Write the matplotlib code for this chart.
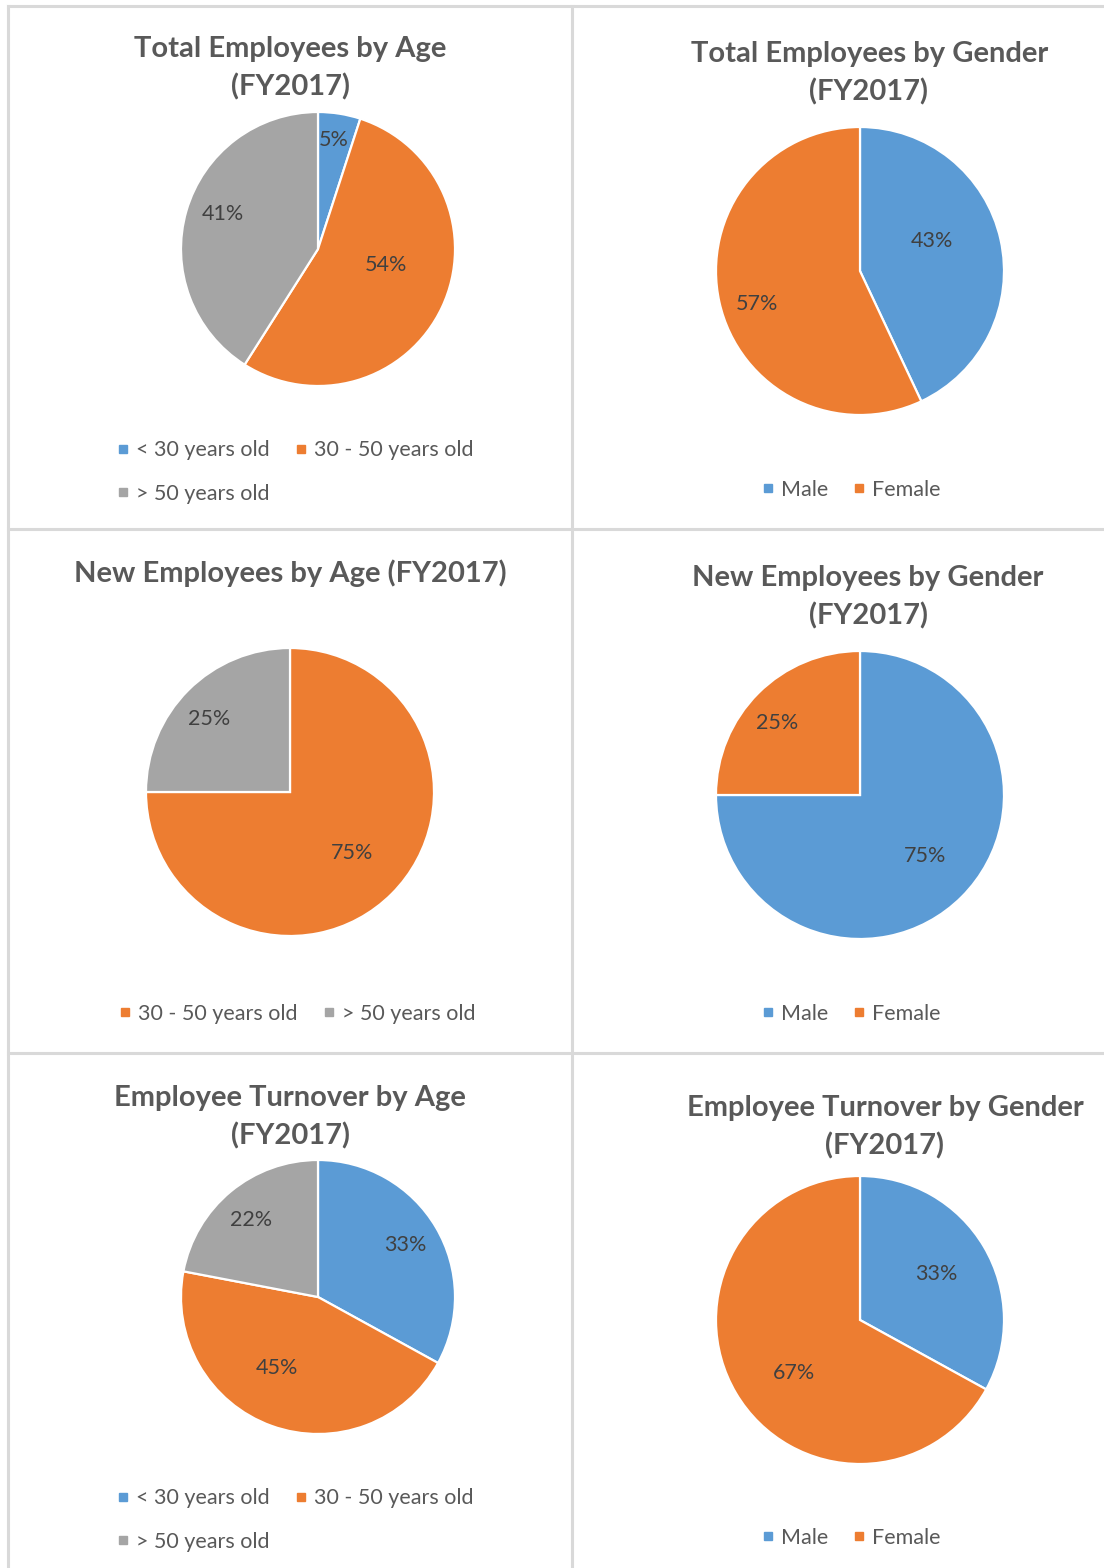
import numpy as np
import matplotlib
matplotlib.use("Agg")
import matplotlib.pyplot as plt
from matplotlib.lines import Line2D

plt.rcParams['font.family'] = ['Lato', 'DejaVu Sans']

# data
age_labels = ['< 30 years old', '30 - 50 years old', '> 50 years old']
new_age_labels = ['30 - 50 years old', '> 50 years old']
gender_labels = ['Male', 'Female']

total_age = [5, 54, 41]
total_gender = [43, 57]
new_age = [75, 25]
new_gender = [75, 25]
turnover_age = [33, 45, 22]
turnover_gender = [33, 67]

colors = {'< 30 years old': '#5B9BD5', '30 - 50 years old': '#ED7D31',
          '> 50 years old': '#A5A5A5', 'Male': '#5B9BD5', 'Female': '#ED7D31'}

W, H = 1104, 1568
TITLE_C = '#595959'
LABEL_C = '#404040'

def fx(x):
  return x / W

def fy(y):
  return 1 - y / H

fig = plt.figure(figsize=(W / 100, H / 100), dpi=100)

# cell borders
for x0, y0, x1, y1 in [(8, 6, W, 6), (8, 6, 8, H), (572, 6, 572, H),
                       (8, 529, W, 529), (8, 1053, W, 1053)]:
  fig.add_artist(Line2D([fx(x0), fx(x1)], [fy(y0), fy(y1)], color='#d9d9d9', lw=2.2))

def panel(values, labels, title_lines, cx, cy, r, lab_pos, leg_xy):
  for text, tx, ty in title_lines:
    fig.text(fx(tx), fy(ty + 2), text, ha='center', va='center', fontsize=21,
             fontweight='bold', color=TITLE_C)
  s = 1.03
  ax = fig.add_axes([fx(cx - r * s), fy(cy + r * s), 2 * r * s / W, 2 * r * s / H])
  wedges, _, autotexts = ax.pie(values, colors=[colors[l] for l in labels], startangle=90,
                                counterclock=False, autopct='%.0f%%',
                                wedgeprops=dict(edgecolor='white', linewidth=1.6),
                                textprops=dict(color=LABEL_C, fontsize=15.5))
  for t, (d, a) in zip(autotexts, lab_pos):
    t.set_position((d * np.cos(np.radians(a)), d * np.sin(np.radians(a))))
    t.set_ha('center')
    t.set_va('center')
  ax.set_xlim(-s, s)
  ax.set_ylim(-s, s)
  ax.set_aspect('equal')
  handles = [Line2D([], [], marker='s', ls='none', markersize=6,
                    color=colors[l]) for l in labels]
  labs = list(labels)
  if len(labels) == 3:
    handles = [handles[0], handles[2], handles[1]]
    labs = [labs[0], labs[2], labs[1]]
  leg = fig.legend(handles, labs, loc='center', bbox_to_anchor=(fx(leg_xy[0]), fy(leg_xy[1])),
                   ncol=2, frameon=False, fontsize=15.5, handlelength=0.6,
                   handletextpad=0.3, columnspacing=1.15, labelspacing=1.1,
                   borderpad=0, borderaxespad=0)
  for t in leg.get_texts():
    t.set_color(TITLE_C)

panel(total_age, age_labels,
      [('Total Employees by Age', 290, 47), ('(FY2017)', 290, 85)],
      318, 249, 137, [(0.80, 82), (0.51, -13), (0.74, 160)], (295, 472))

panel(total_gender, gender_labels,
      [('Total Employees by Gender', 870, 52), ('(FY2017)', 869, 90)],
      860, 271, 144, [(0.54, 23), (0.75, 198)], (851, 490))

panel(new_age, new_age_labels,
      [('New Employees by Age (FY2017)', 290, 571)],
      290, 792, 144, [(0.60, -44.5), (0.76, 138)], (297, 1014))

panel(new_gender, gender_labels,
      [('New Employees by Gender', 868, 576), ('(FY2017)', 868, 614)],
      860, 795, 144, [(0.62, -43), (0.76, 139)], (851, 1014))

panel(turnover_age, age_labels,
      [('Employee Turnover by Age', 290, 1096), ('(FY2017)', 290, 1134)],
      318, 1297, 137, [(0.74, 31), (0.60, -120), (0.74, 131)], (295, 1520))

panel(turnover_gender, gender_labels,
      [('Employee Turnover by Gender', 885, 1106), ('(FY2017)', 885, 1144)],
      860, 1320, 144, [(0.62, 31), (0.59, 219)], (851, 1538))

fig.savefig('out.png', dpi=100, facecolor='white')
